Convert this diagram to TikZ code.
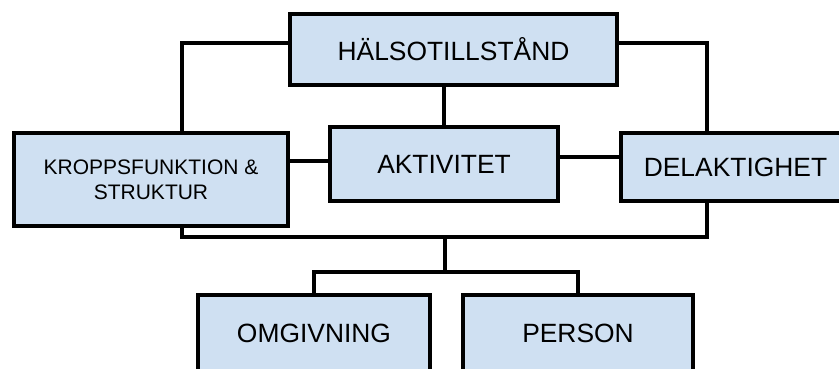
\documentclass[tikz,border=0pt]{standalone}
\usepackage{fontspec}
\setmainfont{Liberation Sans}
\usepackage{xcolor}
\usepackage{tikz}
\usetikzlibrary{calc, shadows, backgrounds}
\definecolor{icfcolor0}{HTML}{CFE0F2}
\definecolor{icfcolor1}{HTML}{000000}
\tikzset{
  box_idle/.style={draw=icfcolor1, fill=icfcolor0, text=icfcolor1, line width=3.8pt, align=center, inner sep=0pt,
    font=\fontsize{26.4}{30}\selectfont, drop shadow={shadow xshift=1.5pt, shadow yshift=-1.5pt, fill=black!30, opacity=1}},
  box_small/.style={box_idle, font=\fontsize{21}{25}\selectfont},
  edge_link/.style={line width=3.8pt, color=icfcolor1, line cap=rect}
}

\begin{document}
\begin{tikzpicture}[x=1pt, y=1pt]
\clip (0,0) rectangle (839,368);
\useasboundingbox (0,0) rectangle (839,368);
% boxes
\node[box_idle, minimum width=327pt, minimum height=71pt] (halsa) at (453.5, 318.5) {HÄLSOTILLSTÅND};
\node[box_idle, minimum width=228pt, minimum height=74pt] (aktiv) at (444, 204) {AKTIVITET};
\node[box_small, minimum width=274pt, minimum height=93pt] (kropp) at (151, 188.5) {KROPPSFUNKTION \&\\STRUKTUR};
\node[box_idle, minimum width=229pt, minimum height=68pt] (delakt) at (735.5, 201) {DELAKTIGHET};
\node[box_idle, minimum width=232pt, minimum height=76pt] (omgiv) at (314, 35) {OMGIVNING};
\node[box_idle, minimum width=230pt, minimum height=76pt] (person) at (578, 35) {PERSON};
% junction points
\coordinate (top_left) at (182, 325);
\coordinate (top_right) at (707, 325);
\coordinate (low_left) at (182, 131);
\coordinate (low_right) at (707, 131);
\coordinate (low_mid) at (445, 131);
\coordinate (fork) at (445, 96);
% connectors behind the boxes
\begin{scope}[on background layer]
\fill[white] (0,0) rectangle (839,368);
\draw[edge_link] (halsa.west |- top_left) -- (top_left) -- (top_left |- kropp.north);
\draw[edge_link] (halsa.east |- top_right) -- (top_right) -- (top_right |- delakt.north);
\draw[edge_link] (aktiv.north |- halsa.south) -- (aktiv.north);
\draw[edge_link] ([yshift=3pt]aktiv.west) -- ([yshift=3pt]aktiv.west -| kropp.east);
\draw[edge_link] ([yshift=7pt]aktiv.east) -- ([yshift=7pt]aktiv.east -| delakt.west);
\draw[edge_link] (low_left |- kropp.south) -- (low_left) -- (low_right) -- (low_right |- delakt.south);
\draw[edge_link] (low_mid) -- (fork);
\draw[edge_link] (omgiv.north) -- (omgiv.north |- fork) -- (person.north |- fork) -- (person.north);
\end{scope}
\end{tikzpicture}
\end{document}
